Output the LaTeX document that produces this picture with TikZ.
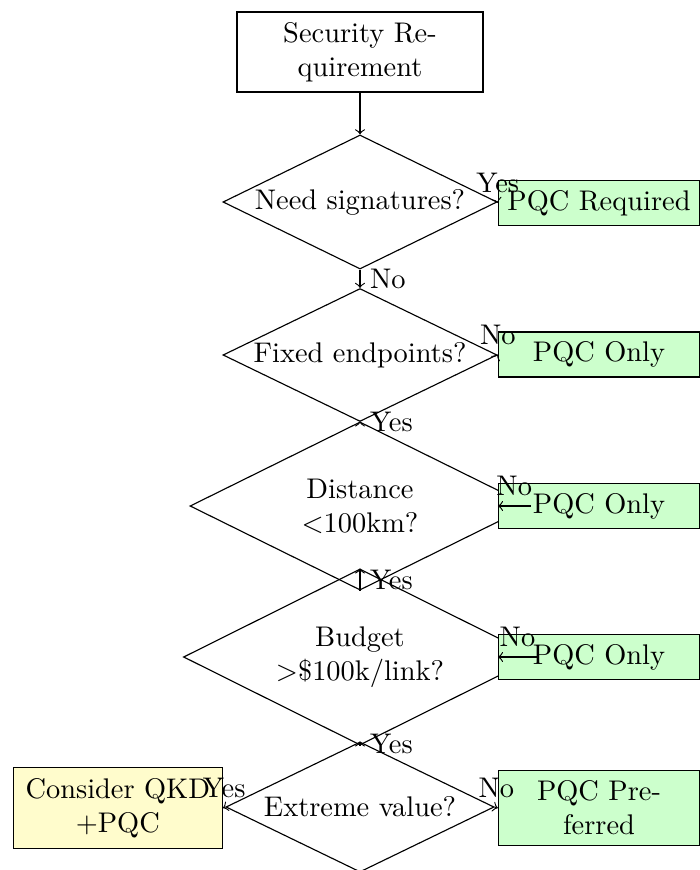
\documentclass[tikz,border=0pt]{standalone}
\usetikzlibrary{shapes.geometric}
\begin{document}
\begin{tikzpicture}[x=0.3521pt, y=-0.3521pt,
  startbox/.style={rectangle, draw, text width=80pt, inner xsep=3.3pt,
    minimum height=28.2pt, align=center},
  decision/.style={diamond, draw, inner sep=0pt, shape aspect=2.05, align=center},
  pqcbox/.style={rectangle, draw, fill=green!20, text width=65pt,
    inner xsep=2.9pt, minimum height=15.8pt, align=center},
  qkdbox/.style={rectangle, draw, fill=yellow!20, text width=67pt,
    inner xsep=3.3pt, minimum height=28.5pt, align=center},
  flow/.style={->}
]
\useasboundingbox (0,0) rectangle (699,870);

% start
\node[startbox] (req) at (360,52) {Security Requirement};

% decision chain with the outcome boxes beside it
\node[decision, minimum width=96.5pt, minimum height=47.2pt] (sig) at (360,202) {Need signatures?};
\node[pqcbox] (pqcreq) at (599,203) {PQC Required};

\node[decision, minimum width=96.5pt, minimum height=46.8pt] (fixed) at (360,355) {Fixed endpoints?};
\node[pqcbox] (only1) at (599,354.5) {PQC Only};

\node[decision, minimum width=119.7pt, minimum height=59.2pt] (dist) at (360,506) {Distance\\$<$100km?};
\node[pqcbox] (only2) at (599,506) {PQC Only};

\node[decision, minimum width=124.3pt, minimum height=62pt] (budget) at (360,657) {Budget\\$>$\$100k/link?};
\node[pqcbox] (only3) at (599,657) {PQC Only};

\node[decision, minimum width=94.4pt, minimum height=45.8pt] (value) at (360,807) {Extreme value?};
\node[qkdbox] (qkd) at (117.8,808) {Consider QKD\\+PQC};
\node[pqcbox, minimum height=26.4pt] (pref) at (599,808) {PQC Preferred};

% connectors
\draw[flow] (req.south) -- (sig.north);
\draw[flow] (sig.east) -- node[above] {Yes} (pqcreq.west);
\draw[flow] (sig.south) -- node[right] {No} (fixed.north);
\draw[flow] (fixed.east) -- node[above] {No} (only1.west);
\draw[flow] (fixed.south) -- node[right] {Yes} (dist.north);
\draw[flow] (dist.east) -- node[above] {No} (only2.west);
\draw[flow] (dist.south) -- node[right] {Yes} (budget.north);
\draw[flow] (budget.east) -- node[above] {No} (only3.west);
\draw[flow] (budget.south) -- node[right] {Yes} (value.north);
\draw[flow] (value.west) -- node[above] {Yes} (qkd.east);
\draw[flow] (value.east) -- node[above] {No} (pref.west);
\end{tikzpicture}
\end{document}
